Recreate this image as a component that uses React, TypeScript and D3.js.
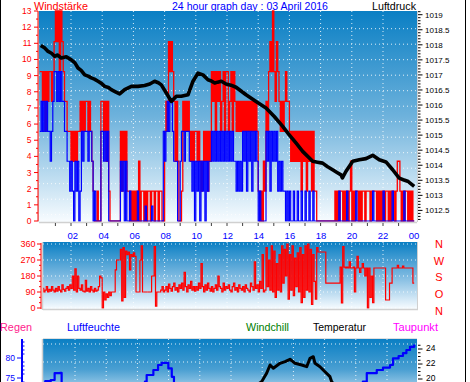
import React from "react";
import * as d3 from "d3";

const hourLabels = ["02", "04", "06", "08", "10", "12", "14", "16", "18", "20", "22", "00"];
const windTicks = [0, 1, 2, 3, 4, 5, 6, 7, 8, 9, 10, 11, 12, 13];
const pressTicks = [1012.5, 1013, 1013.5, 1014, 1014.5, 1015, 1015.5, 1016, 1016.5, 1017, 1017.5, 1018, 1018.5, 1019];
const dirTicks = [0, 90, 180, 270, 360];
const compass = ["N", "W", "S", "O", "N"];
const humTicks = [75, 80];
const tempTicks = [20, 22, 24];

// wind gust (red), 5-minute samples
const gust = [
  9.25, 9.25, 7.4, 9.25, 5.55, 9.25, 7.4, 9.25, 9.25, 7.4, 9.25, 11.1,
  13, 11.1, 13, 9.25, 13, 11.1, 9.25, 7.4, 7.4, 5.55, 5.55, 5.55,
  3.7, 5.55, 3.7, 5.55, 3.7, 5.55, 5.55, 7.4, 5.55, 7.4, 5.55, 7.4,
  7.4, 5.55, 7.4, 5.55, 3.7, 1.85, 0, 0, 1.85, 0, 0, 7.4,
  7.4, 5.55, 7.4, 3.7, 7.4, 1.85, 0, 0, 0, 0, 0, 0,
  0, 0, 5.55, 1.85, 5.55, 3.7, 5.55, 1.85, 1.85, 0, 1.85, 0,
  1.85, 0, 1.85, 0, 3.7, 0, 1.85, 1.85, 0, 1.85, 0, 1.85,
  1.85, 0, 1.85, 1.85, 0, 1.85, 1.85, 0, 1.85, 1.85, 0, 0,
  5.55, 7.4, 5.55, 11.1, 9.25, 11.1, 9.25, 7.4, 3.7, 7.4, 3.7, 0,
  0, 1.85, 7.4, 5.55, 7.4, 5.55, 7.4, 5.55, 3.7, 5.55, 3.7, 5.55,
  5.55, 3.7, 5.55, 3.7, 1.85, 3.7, 5.55, 3.7, 5.55, 1.85, 5.55, 3.7,
  9.25, 7.4, 9.25, 5.55, 9.25, 7.4, 9.25, 5.55, 7.4, 9.25, 5.55, 9.25,
  9.25, 5.55, 7.4, 9.25, 5.55, 9.25, 7.4, 5.55, 7.4, 5.55, 7.4, 5.55,
  7.4, 5.55, 7.4, 5.55, 7.4, 5.55, 7.4, 5.55, 7.4, 5.55, 7.4, 5.55,
  1.85, 0, 1.85, 0, 3.7, 1.85, 7.4, 5.55, 9.25, 11.1, 9.25, 13,
  9.25, 7.4, 11.1, 9.25, 7.4, 5.55, 7.4, 5.55, 7.4, 9.25, 7.4, 7.4,
  5.55, 3.7, 5.55, 3.7, 5.55, 3.7, 5.55, 3.7, 5.55, 1.85, 5.55, 3.7,
  5.55, 1.85, 5.55, 3.7, 5.55, 1.85, 5.55, 1.85, 1.85, 0, 0, 0,
  0, 0, 0, 0, 0, 0, 0, 0, 0, 0, 0, 1.85,
  0, 1.85, 0, 1.85, 1.85, 0, 1.85, 0, 1.85, 0, 1.85, 3.7,
  0, 1.85, 0, 1.85, 1.85, 0, 1.85, 0, 1.85, 1.85, 0, 1.85,
  1.85, 1.85, 0, 1.85, 1.85, 1.85, 1.85, 0, 1.85, 0, 1.85, 0,
  1.85, 0, 1.85, 1.85, 0, 1.85, 0, 1.85, 1.85, 0, 1.85, 3.7,
  3.7, 1.85, 0, 1.85, 0, 1.85, 1.85, 0, 1.85, 0, 1.85, 0,
];

// mean wind speed (blue), 5-minute samples
const speed = [
  5.55, 7.4, 5.55, 7.4, 5.55, 7.4, 5.55, 5.55, 3.7, 5.55, 7.4, 9.25,
  9.25, 7.4, 9.25, 7.4, 9.25, 7.4, 7.4, 5.55, 5.55, 3.7, 3.7, 1.85,
  3.7, 1.85, 0, 3.7, 1.85, 3.7, 0, 1.85, 5.55, 3.7, 5.55, 5.55,
  5.55, 3.7, 5.55, 5.55, 3.7, 0, 1.85, 0, 0, 0, 0, 5.55,
  5.55, 3.7, 5.55, 3.7, 5.55, 0, 0, 0, 0, 0, 0, 0,
  0, 0, 3.7, 1.85, 3.7, 0, 3.7, 0, 0, 1.85, 0, 0,
  0, 0, 0, 1.85, 0, 0, 0, 0, 0, 0.93, 0, 0,
  0, 0, 0.93, 0, 0, 0, 0, 0, 0, 0, 0, 5.55,
  3.7, 5.55, 7.4, 5.55, 7.4, 7.4, 5.55, 3.7, 3.7, 3.7, 0, 0,
  3.7, 5.55, 5.55, 3.7, 5.55, 5.55, 5.55, 3.7, 3.7, 1.85, 3.7, 0,
  3.7, 1.85, 3.7, 0, 3.7, 1.85, 3.7, 0, 3.7, 1.85, 3.7, 3.7,
  5.55, 3.7, 5.55, 3.7, 5.55, 3.7, 5.55, 3.7, 5.55, 3.7, 5.55, 3.7,
  5.55, 3.7, 5.55, 3.7, 5.55, 3.7, 3.7, 1.85, 3.7, 1.85, 3.7, 1.85,
  5.55, 3.7, 5.55, 1.85, 5.55, 3.7, 5.55, 1.85, 5.55, 3.7, 5.55, 3.7,
  0, 1.85, 0, 0, 0, 0, 5.55, 3.7, 5.55, 1.85, 5.55, 3.7,
  5.55, 3.7, 5.55, 1.85, 3.7, 1.85, 3.7, 1.85, 1.85, 0, 1.85, 0,
  1.85, 0, 0, 1.85, 0, 0, 1.85, 0, 0, 1.85, 0, 0,
  1.85, 0, 0, 1.85, 0, 0, 1.85, 0, 0, 0, 0, 0,
  0, 0, 0, 0, 0, 0, 0, 0, 0, 0, 0, 0,
  0, 0, 1.85, 0, 0, 0, 0, 0, 1.85, 0, 0, 0,
  0, 0, 0, 1.85, 0, 0, 0, 0, 0, 0, 0, 0,
  0, 0, 0, 0, 1.85, 0, 0, 0, 0, 0, 0, 0,
  1.85, 0, 0, 0, 0, 0, 0, 1.85, 0, 0, 0, 0,
  0, 0, 0, 0, 1.85, 0, 0, 0, 0, 0, 0, 0,
];

// air pressure (black)
const pressTime = [0.06, 0.3, 0.53, 0.75, 0.95, 1.15, 1.38, 1.7, 2.02, 2.25, 2.45, 2.65, 2.88, 3.1, 3.3, 3.5, 3.73, 3.95, 4.16, 4.4, 4.58, 4.85, 5.12, 5.44, 5.87, 6.29, 6.72, 7.05, 7.36, 7.6, 7.79, 8.11, 8.43, 8.75, 9.07, 9.5, 9.82, 10.14, 10.46, 10.78, 11.0, 11.21, 11.4, 11.64, 11.94, 12.25, 12.58, 13.22, 13.86, 14.5, 15.03, 15.57, 15.99, 16.42, 16.85, 17.49, 17.8, 18.13, 18.45, 18.77, 19.05, 19.31, 19.4, 19.63, 20.06, 20.48, 20.91, 21.34, 21.76, 22.19, 22.62, 23.04, 23.3, 23.58, 24.0];
const pressVal = [1017.98, 1017.9, 1017.78, 1017.72, 1017.62, 1017.66, 1017.56, 1017.6, 1017.5, 1017.4, 1017.23, 1017.15, 1017.0, 1016.96, 1016.9, 1016.86, 1016.79, 1016.72, 1016.62, 1016.58, 1016.51, 1016.44, 1016.37, 1016.51, 1016.62, 1016.62, 1016.65, 1016.7, 1016.79, 1016.74, 1016.67, 1016.4, 1016.12, 1016.29, 1016.29, 1016.34, 1016.79, 1017.06, 1017.0, 1016.84, 1016.8, 1016.73, 1016.76, 1016.79, 1016.7, 1016.66, 1016.59, 1016.34, 1016.12, 1015.9, 1015.62, 1015.29, 1015.01, 1014.74, 1014.46, 1014.13, 1014.1, 1014.07, 1013.95, 1013.85, 1013.76, 1013.68, 1013.58, 1013.8, 1014.13, 1014.18, 1014.22, 1014.33, 1014.18, 1014.11, 1013.85, 1013.57, 1013.52, 1013.47, 1013.3];

// wind direction (degrees), 5-minute samples
const windDir = [
  90, 95, 110, 90, 100, 120, 90, 105, 95, 120, 100, 90,
  110, 95, 120, 100, 90, 130, 105, 95, 110, 120, 100, 130,
  110, 180, 100, 220, 90, 180, 110, 100, 130, 95, 90, 155,
  95, 110, 90, 120, 100, 90, 110, 95, 100, 120, 180, 170,
  0, 90, 45, 80, 60, 90, 70, 90, 90, 90, 215, 270,
  270, 270, 330, 40, 340, 60, 320, 300, 315, 215, 300, 290,
  310, 290, 90, 90, 90, 270, 350, 90, 90, 90, 90, 90,
  90, 90, 180, 180, 345, 10, 90, 90, 90, 100, 120, 90,
  100, 120, 90, 135, 110, 95, 120, 140, 100, 115, 90, 130,
  110, 140, 100, 200, 120, 90, 130, 110, 150, 100, 120, 95,
  120, 100, 140, 110, 250, 120, 90, 130, 100, 140, 110, 95,
  120, 90, 110, 130, 100, 180, 120, 110, 90, 140, 100, 120,
  110, 130, 100, 90, 120, 140, 100, 115, 90, 130, 110, 100,
  120, 90, 130, 110, 100, 90, 140, 120, 100, 260, 110, 130,
  90, 150, 110, 300, 90, 100, 340, 120, 270, 100, 350, 90,
  320, 60, 250, 100, 300, 90, 350, 140, 330, 180, 360, 50,
  300, 100, 350, 70, 280, 120, 310, 90, 340, 30, 300, 60,
  350, 100, 360, 90, 330, 20, 300, 150, 50, 340, 315, 315,
  315, 315, 315, 315, 140, 140, 140, 140, 140, 140, 140, 140,
  140, 140, 140, 230, 28, 345, 230, 225, 230, 225, 260, 225,
  225, 230, 90, 225, 290, 225, 200, 225, 250, 225, 180, 225,
  0, 225, 60, 180, 30, 225, 225, 225, 225, 225, 225, 225,
  225, 225, 45, 45, 45, 140, 140, 225, 225, 225, 225, 240,
  225, 225, 225, 235, 225, 225, 225, 225, 225, 225, 225, 140,
];

// humidity (blue, left axis)
const humTime = [0, 0.35, 0.7, 0.95, 1.3, 1.4, 2, 4, 6, 6.6, 6.74, 6.85, 7.28, 7.58, 7.81, 8.0, 8.24, 8.46, 8.6, 10, 14, 18, 20, 20.6, 20.71, 20.96, 21.6, 22.0, 22.45, 22.64, 23.0, 23.28, 23.5, 23.73, 24.0];
const humVal = [73.5, 74.2, 74.5, 76.2, 76.3, 73, 71, 69, 70, 72.5, 74.1, 75.75, 77, 78.25, 78.8, 78.8, 77.4, 75.3, 73, 68, 60, 64, 70, 73, 74.1, 76.2, 77, 77.6, 78.25, 79.9, 80.5, 81.2, 82, 82.8, 83.4];

// temperature (black, right axis)
const tempTime = [0, 6, 10, 12, 13.5, 14.22, 14.54, 14.76, 14.97, 15.4, 15.72, 16.04, 16.36, 16.79, 17.11, 17.32, 17.53, 17.64, 17.96, 18.28, 18.6, 18.71, 19.2, 21, 24];
const tempVal = [15, 12, 15, 17.5, 18.6, 19.64, 20.76, 21.87, 21.43, 22.09, 22.31, 22.63, 22.09, 21.87, 21.64, 22.76, 22.97, 22.09, 21.64, 20.97, 20.31, 19.64, 18.5, 16.5, 15];

const FONT = "Liberation Sans, Arial, sans-serif";

export default function App() {
  const x = d3.scaleLinear().domain([0, 24]).range([39.8, 414.2]);
  const labelX = d3.scaleLinear().domain([0, 24]).range([41.7, 414]);
  const windY = d3.scaleLinear().domain([0, 13]).range([221, 11]);
  const pressY = d3.scaleLinear().domain([1012.5, 1019]).range([210.4, 14.7]);
  const dirY = d3.scaleLinear().domain([0, 360]).range([308, 244]);
  const humY = d3.scaleLinear().domain([75, 80]).range([378, 358]);
  const tempY = d3.scaleLinear().domain([20, 24]).range([379, 349]);

  const stepLine = (vals: number[], yS: d3.ScaleLinear<number, number>) =>
    d3
      .line<number>()
      .x((_, i) => x(Math.min(i / 12, 24)))
      .y((d) => yS(d))
      .curve(d3.curveStepAfter)([...vals, vals[vals.length - 1]]) || "";

  const pressPath =
    d3
      .line<number>()
      .x((_, i) => x(pressTime[i]))
      .y((d) => pressY(d))(pressVal) || "";
  const humPath =
    d3
      .line<number>()
      .x((_, i) => x(humTime[i]))
      .y((d) => humY(d))
      .curve(d3.curveStepAfter)(humVal) || "";
  const tempPath =
    d3
      .line<number>()
      .x((_, i) => x(tempTime[i]))
      .y((d) => tempY(d))(tempVal) || "";

  const gridHours = d3.range(2, 24, 2);
  const topRows = d3.range(0, 13).map((k) => 28.7 + k * 15.5);
  const minorWind = d3.range(0, 13.01, 0.5);
  const minorPress = d3.range(1012.2, 1019.11, 0.1);

  const top = { x0: 39, x1: 417, y0: 11, y1: 222 };
  const mid = { x0: 43, x1: 417, y0: 242, y1: 309 };
  const bot = { x0: 43, x1: 417, y0: 339, y1: 400 };

  return (
    <svg
      width={470}
      height={382}
      style={{ position: "absolute", left: 0, top: 0, background: "#fff" }}
      fontFamily={FONT}
    >
      <defs>
        <linearGradient id="gTop" x1="0" y1="0" x2="0" y2="1">
          <stop offset="0" stopColor="#0a7fc4" />
          <stop offset="0.5" stopColor="#6eb2dc" />
          <stop offset="1" stopColor="#f8fcff" />
        </linearGradient>
        <linearGradient id="gMid" x1="0" y1="0" x2="0" y2="1">
          <stop offset="0" stopColor="#0a7fc4" />
          <stop offset="0.5" stopColor="#7ab8e0" />
          <stop offset="1" stopColor="#f8fcff" />
        </linearGradient>
        <linearGradient id="gBot" x1="0" y1="0" x2="0" y2="1">
          <stop offset="0" stopColor="#0a7fc4" />
          <stop offset="0.5" stopColor="#4a9fd2" />
          <stop offset="1" stopColor="#d8ecf8" />
        </linearGradient>
        <clipPath id="cTop">
          <rect x={top.x0} y={top.y0 - 1} width={top.x1 - top.x0} height={top.y1 - top.y0 + 2} />
        </clipPath>
        <clipPath id="cMid">
          <rect x={mid.x0} y={mid.y0} width={mid.x1 - mid.x0} height={mid.y1 - mid.y0} />
        </clipPath>
        <clipPath id="cBot">
          <rect x={bot.x0} y={bot.y0} width={bot.x1 - bot.x0} height={bot.y1 - bot.y0} />
        </clipPath>
      </defs>

      {/* frame */}
      <line x1={0.5} y1={0} x2={0.5} y2={382} stroke="#000" />
      <line x1={465.5} y1={0} x2={465.5} y2={382} stroke="#000" />

      {/* titles */}
      <text x={34} y={10} fill="#ff0000" fontSize={11} textLength={54} lengthAdjust="spacingAndGlyphs">Windstärke</text>
      <text x={172} y={10} fill="#0000ff" fontSize={11} textLength={156} lengthAdjust="spacingAndGlyphs">24 hour graph day : 03 April 2016</text>
      <text x={372} y={10} fill="#000" fontSize={11} textLength={44} lengthAdjust="spacingAndGlyphs">Luftdruck</text>

      {/* ===== top panel ===== */}
      <rect x={top.x0} y={top.y0} width={top.x1 - top.x0} height={top.y1 - top.y0} fill="url(#gTop)" />
      <g stroke="#fff" strokeDasharray="1 3" strokeWidth={1} opacity={0.85}>
        {gridHours.map((h) => (
          <line key={h} x1={x(h)} x2={x(h)} y1={top.y0} y2={top.y1} />
        ))}
        {topRows.map((y, i) => (
          <line key={i} x1={top.x0} x2={top.x1} y1={y} y2={y} />
        ))}
      </g>
      <g clipPath="url(#cTop)" fill="none">
        <path d={stepLine(gust, windY)} stroke="#ff0000" strokeWidth={1.3} />
        <path d={stepLine(speed, windY)} stroke="#0000ff" strokeWidth={1.2} />
        <path d={pressPath} stroke="#000" strokeWidth={3.6} strokeLinejoin="round" />
      </g>
      <line x1={top.x0 - 0.5} x2={top.x0 - 0.5} y1={top.y0} y2={top.y1} stroke="#d0d0d0" />
      <line x1={top.x0} x2={top.x1} y1={top.y1 + 0.5} y2={top.y1 + 0.5} stroke="#d0d0d0" strokeWidth={1.5} />
      <line x1={top.x1 + 0.5} x2={top.x1 + 0.5} y1={top.y0} y2={top.y1} stroke="#d0d0d0" />

      {/* left wind axis */}
      <line x1={38} x2={38} y1={11} y2={221} stroke="#ff0000" />
      {minorWind.map((v) => (
        <line key={v} x1={Number.isInteger(v) ? 34 : 36} x2={38} y1={windY(v)} y2={windY(v)} stroke="#ff0000" />
      ))}
      {windTicks.map((v) => (
        <text key={v} x={31.5} y={windY(v) + 3} fill="#ff0000" fontSize={8.5} textAnchor="end">{v}</text>
      ))}

      {/* right pressure axis */}
      {minorPress.map((v, i) => {
        const major = Math.abs(v * 2 - Math.round(v * 2)) < 0.01;
        return (
          <line key={i} x1={418} x2={major ? 422.5 : 420.5} y1={pressY(v)} y2={pressY(v)} stroke="#000" />
        );
      })}
      {pressTicks.map((v) => (
        <text key={v} x={425} y={pressY(v) + 2.8} fill="#000" fontSize={8}>{v}</text>
      ))}

      {/* hour ticks and labels */}
      {d3.range(1, 24).map((h) => (
        <line key={h} x1={x(h)} x2={x(h)} y1={223} y2={226} stroke="#404040" />
      ))}
      {hourLabels.map((l, i) => (
        <text key={l} x={labelX((i + 1) * 2)} y={239} fill="#0000ff" fontSize={9.5} textAnchor="middle">{l}</text>
      ))}

      {/* ===== middle panel ===== */}
      <rect x={mid.x0} y={mid.y0} width={mid.x1 - mid.x0} height={mid.y1 - mid.y0} fill="url(#gMid)" />
      <g stroke="#fff" strokeDasharray="1 3" strokeWidth={1} opacity={0.85}>
        {gridHours.map((h) => (
          <line key={h} x1={x(h)} x2={x(h)} y1={mid.y0} y2={mid.y1} />
        ))}
        {dirTicks.map((d) => (
          <line key={d} x1={mid.x0} x2={mid.x1} y1={dirY(d)} y2={dirY(d)} />
        ))}
      </g>
      <g clipPath="url(#cMid)" fill="none">
        <path d={stepLine(windDir, dirY)} stroke="#ff0000" strokeWidth={1.2} />
      </g>
      <line x1={mid.x0 - 0.5} x2={mid.x0 - 0.5} y1={mid.y0} y2={mid.y1 + 1} stroke="#d0d0d0" strokeWidth={1.5} />
      <line x1={mid.x0} x2={mid.x1 + 1} y1={mid.y1 + 0.5} y2={mid.y1 + 0.5} stroke="#d0d0d0" strokeWidth={1.5} />
      <line x1={mid.x1 + 0.5} x2={mid.x1 + 0.5} y1={mid.y0} y2={mid.y1} stroke="#d0d0d0" />
      <line x1={41} x2={41} y1={243} y2={309} stroke="#ff0000" />
      {d3.range(0, 361, 30).map((d) => (
        <line key={d} x1={d % 90 === 0 ? 37 : 39} x2={41} y1={dirY(d)} y2={dirY(d)} stroke="#ff0000" />
      ))}
      {dirTicks.map((d) => (
        <text key={d} x={35.5} y={dirY(d) + 3.1} fill="#ff0000" fontSize={9} textAnchor="end">{d}</text>
      ))}
      {compass.map((c, i) => (
        <text key={i} x={439} y={248 + i * 16.7} fill="#ff0000" fontSize={11} textAnchor="middle">{c}</text>
      ))}

      {/* ===== bottom panel ===== */}
      <text x={0} y={331} fill="#ff1a8c" fontSize={11} textLength={32} lengthAdjust="spacingAndGlyphs">Regen</text>
      <text x={67} y={331} fill="#0000ff" fontSize={11} textLength={53} lengthAdjust="spacingAndGlyphs">Luftfeuchte</text>
      <text x={246} y={331} fill="#008000" fontSize={11} textLength={43} lengthAdjust="spacingAndGlyphs">Windchill</text>
      <text x={313} y={331} fill="#000" fontSize={11} textLength={53} lengthAdjust="spacingAndGlyphs">Temperatur</text>
      <text x={393} y={331} fill="#ff00ff" fontSize={11} textLength={45} lengthAdjust="spacingAndGlyphs">Taupunkt</text>

      <rect x={bot.x0} y={bot.y0} width={bot.x1 - bot.x0} height={bot.y1 - bot.y0} fill="url(#gBot)" />
      <g stroke="#fff" strokeDasharray="1 3" strokeWidth={1} opacity={0.85}>
        {gridHours.map((h) => (
          <line key={h} x1={x(h) + 4} x2={x(h) + 4} y1={bot.y0} y2={bot.y1} />
        ))}
        {[344, 362].map((y) => (
          <line key={y} x1={bot.x0} x2={bot.x1} y1={y} y2={y} />
        ))}
      </g>
      <g clipPath="url(#cBot)" fill="none">
        <path d={tempPath} stroke="#000" strokeWidth={3} strokeLinejoin="round" />
        <path d={humPath} stroke="#0000ff" strokeWidth={2.2} strokeLinejoin="round" />
      </g>
      <line x1={bot.x0 - 0.5} x2={bot.x0 - 0.5} y1={bot.y0} y2={382} stroke="#d0d0d0" strokeWidth={1.5} />
      <line x1={bot.x0} x2={bot.x1} y1={bot.y0 - 0.5} y2={bot.y0 - 0.5} stroke="#e0e0e0" />

      {/* humidity axis */}
      <line x1={22} x2={22} y1={339} y2={382} stroke="#0000ff" strokeWidth={2} />
      {d3.range(74, 85, 1).map((v) => (
        <line key={v} x1={v % 5 === 0 ? 17 : 22} x2={v % 5 === 0 ? 22 : 24.5} y1={humY(v)} y2={humY(v)} stroke="#0000ff" />
      ))}
      {humTicks.map((v) => (
        <text key={v} x={15} y={humY(v) + 3} fill="#0000ff" fontSize={8.5} textAnchor="end">{v}</text>
      ))}

      {/* temperature axis */}
      {d3.range(19.5, 24.8, 0.5).map((v, i) => (
        <line key={i} x1={418} x2={Math.abs(v - Math.round(v)) < 0.01 && Math.round(v) % 2 === 0 ? 422.5 : 420.5} y1={tempY(v)} y2={tempY(v)} stroke="#000" />
      ))}
      {tempTicks.map((v) => (
        <text key={v} x={426} y={tempY(v) + 2.3} fill="#000" fontSize={8.5}>{v}</text>
      ))}
    </svg>
  );
}
